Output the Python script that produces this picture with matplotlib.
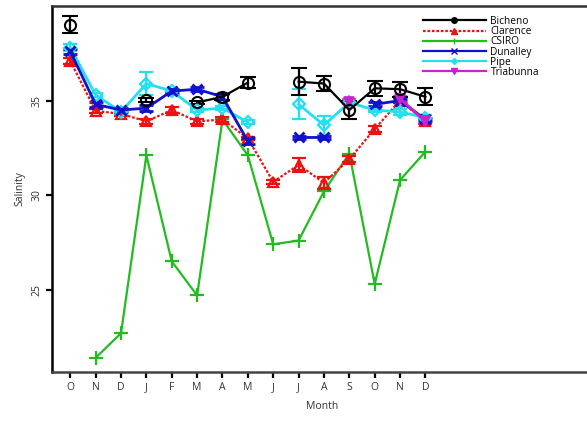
import numpy as np
import matplotlib.pyplot as plt
from matplotlib.lines import Line2D

plt.rcParams['font.family'] = ['Open Sans', 'DejaVu Sans']

#data
months = ['O', 'N', 'D', 'J', 'F', 'M', 'A', 'M', 'J', 'J', 'A', 'S', 'O', 'N', 'D']
nan = np.nan

bicheno     = [39.0, nan, nan, 35.05, nan, 34.9, 35.2, 35.95, nan, 36.0, 35.9, 34.5, 35.65, 35.6, 35.2]
bicheno_err = [0.45, 0, 0, 0.1, 0, 0.1, 0.15, 0.3, 0, 0.7, 0.4, 0.5, 0.4, 0.4, 0.45]

clarence     = [37.1, 34.45, 34.3, 33.9, 34.5, 33.9, 34.0, 33.0, 30.7, 31.6, 30.65, 31.9, 33.5, 35.0, 33.9]
clarence_err = [0.15, 0.1, 0.1, 0.15, 0.15, 0.15, 0.15, 0.1, 0.1, 0.35, 0.3, 0.15, 0.15, 0.15, 0.15]

csiro = [nan, 21.4, 22.7, 32.1, 26.5, 24.7, 34.0, 32.1, 27.4, 27.6, 30.2, 32.2, 25.3, 30.8, 32.3]

dunalley     = [37.6, 34.8, 34.5, 34.6, 35.5, 35.6, 35.2, 32.85, nan, 33.05, 33.05, nan, 34.8, 35.0, 34.0]
dunalley_err = [0.15, 0.15, 0.1, 0.15, 0.1, 0.1, 0.15, 0.15, 0, 0.1, 0.1, 0, 0.1, 0.1, 0.1]

pipe     = [37.8, 35.3, 34.4, 35.9, 35.5, 34.5, 34.6, 33.85, nan, 34.8, 33.7, 34.9, 34.5, 34.4, 34.1]
pipe_err = [0.2, 0.1, 0.1, 0.6, 0.1, 0.1, 0.1, 0.1, 0, 0.8, 0.5, 0.1, 0.1, 0.15, 0.15]

triabunna     = [nan, nan, nan, nan, nan, nan, nan, nan, nan, nan, nan, 34.95, nan, 35.1, 33.9]
triabunna_err = [0, 0, 0, 0, 0, 0, 0, 0, 0, 0, 0, 0.15, 0, 0.15, 0.15]

x = np.arange(len(months))

#plotting
fig = plt.figure(figsize=(5.87, 4.21), dpi=100)
ax = fig.add_axes([52/587, 1 - 372/421, (587 - 52)/587 + 0.01, (372 - 6)/421])

dot = (0, (1.2, 0.8))

ax.plot(x, csiro, color='#22bb22', lw=1.6, marker='+', ms=10, mew=1.6)

ax.errorbar(x, clarence, yerr=clarence_err, color='#ee1111', lw=1.6, ls=dot,
            marker='^', ms=7, mfc='none', mew=1.6, capsize=5, elinewidth=1.6)

ax.errorbar(x, pipe, yerr=pipe_err, color='#22e0f0', lw=2.0,
            marker='D', ms=6, mfc='none', mew=1.6, capsize=5, elinewidth=1.6)

ax.errorbar(x, dunalley, yerr=dunalley_err, color='#1111cc', lw=2.0,
            marker='x', ms=7, mew=2, capsize=5, elinewidth=1.6)

ax.errorbar(x, triabunna, yerr=triabunna_err, color='#cc22cc', lw=2.0,
            marker='v', ms=7, mew=1.2, capsize=5, elinewidth=1.6)

ax.errorbar(x, bicheno, yerr=bicheno_err, color='black', lw=1.6,
            marker='o', ms=8, mfc='none', mew=1.5, capsize=6, elinewidth=1.6, capthick=1.8)

ax.set_xlim(-0.72, 20.6)
ax.set_ylim(20.65, 40.0)
ax.set_xticks(x)
ax.set_xticklabels(months, fontsize=7.5, color='#333333')
ax.set_yticks([25, 30, 35])
ax.set_yticklabels(['25', '30', '35'], fontsize=7.5, color='#333333', rotation=90, va='center')
ax.tick_params(length=4, width=1.6, pad=3)
ax.spines['right'].set_visible(False)
for s in ['left', 'bottom', 'top']:
    ax.spines[s].set_linewidth(1.8)
ax.spines['bottom'].set_color('#444444')
ax.spines['top'].set_color('#333333')

ax.set_xlabel('Month', fontsize=7.5, color='#333333', labelpad=6)
ax.set_ylabel('Salinity', fontsize=7.5, color='#333333', labelpad=4)

handles = [
    Line2D([], [], color='black', lw=1.6, marker='o', ms=4),
    Line2D([], [], color='#ee1111', lw=1.6, ls=dot, marker='^', ms=4),
    Line2D([], [], color='#22bb22', lw=1.6, marker='|', ms=4),
    Line2D([], [], color='#1111cc', lw=1.6, marker='x', ms=4),
    Line2D([], [], color='#22e0f0', lw=1.6, marker='D', ms=3),
    Line2D([], [], color='#cc22cc', lw=1.6, marker='v', ms=4),
]
labels = ['Bicheno', 'Clarence', 'CSIRO', 'Dunalley', 'Pipe', 'Triabunna']
ax.legend(handles, labels, loc='upper left', bbox_to_anchor=(423/587, 1 - 16/421),
          bbox_transform=fig.transFigure, frameon=False, fontsize=7.3,
          handlelength=6.2, handletextpad=0.45, labelspacing=-0.08, borderaxespad=0,
          borderpad=0)

fig.savefig('out.png', dpi=100)
